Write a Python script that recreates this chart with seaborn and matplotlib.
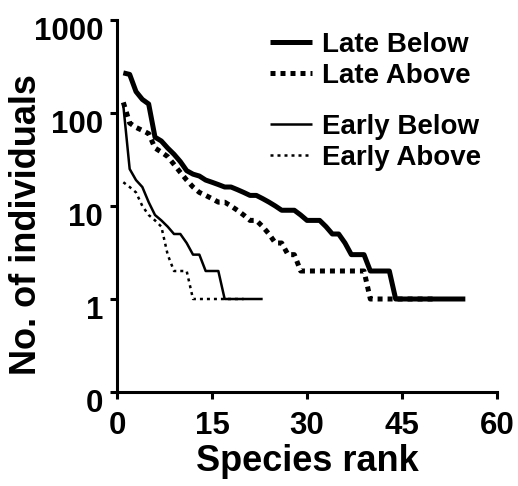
import numpy as np
import pandas as pd
import matplotlib
matplotlib.use("Agg")
import matplotlib.pyplot as plt
import matplotlib.transforms as mtransforms
from matplotlib.ticker import NullLocator
import seaborn as sns

# rank-abundance values (individuals per species, ordered by rank)
late_below = [270, 260, 170, 140, 125, 55, 50, 42, 36, 30, 24, 22, 21, 19, 18,
              17, 16, 16, 15, 14, 13, 13, 12, 11, 10, 9, 9, 9, 8, 7,
              7, 7, 6, 5, 5, 4, 3, 3, 3, 2, 2, 2, 2, 1, 1,
              1, 1, 1, 1, 1, 1, 1, 1, 1, 1]
late_above = [130, 78, 70, 65, 60, 42, 38, 34, 28, 23, 19, 16, 14, 13, 12,
              11, 11, 10, 9, 8, 7, 7, 6, 5, 4, 4, 3, 3, 2, 2,
              2, 2, 2, 2, 2, 2, 2, 2, 2, 1, 1, 1, 1, 1, 1,
              1, 1, 1, 1, 1]
early_below = [120, 25, 19, 16, 11, 8, 7, 6, 5, 5, 4, 3, 3, 2, 2,
               2, 1, 1, 1, 1, 1, 1, 1]
early_above = [18, 16, 14, 10, 8, 7, 6, 3, 2, 2, 2, 1, 1, 1, 1,
               1, 1, 1, 1, 1]

y_ticks = [0.1, 1, 10, 100, 1000]
y_ticklabels = ["0", "1", "10", "100", "1000"]
x_ticks = [0, 15, 30, 45, 60]

sns.set_style("ticks")
plt.rcParams["font.family"] = ["Liberation Sans", "DejaVu Sans"]
plt.rcParams["font.weight"] = "bold"
plt.rcParams["axes.labelweight"] = "bold"
for key in ["text.color", "axes.labelcolor", "xtick.color", "ytick.color",
            "axes.edgecolor", "xtick.labelcolor", "ytick.labelcolor"]:
    plt.rcParams[key] = "black"

fig = plt.figure(figsize=(5.18, 4.86), dpi=100)
ax = fig.add_axes([117 / 518, 1 - 392 / 486, 380 / 518, 372 / 486])

series = [
    ("Late Below", late_below, 3.6, "-"),
    ("Late Above", late_above, 3.6, (0, (1, 1))),
    ("Early Below", early_below, 1.8, "-"),
    ("Early Above", early_above, 1.8, (0, (1.2, 1.6))),
]
handles = []
for name, vals, lw, ls in series:
    df = pd.DataFrame({"rank": np.arange(1, len(vals) + 1), "count": vals})
    sns.lineplot(data=df, x="rank", y="count", ax=ax, color="black", lw=lw,
                 linestyle=ls, estimator=None, label=name, legend=False,
                 solid_capstyle="butt", dash_capstyle="butt")
    handles.append(ax.lines[-1])

ax.set_yscale("log")
ax.set_ylim(0.1, 1000)
ax.set_xlim(0, 60)
ax.set_yticks(y_ticks)
ax.set_yticklabels(y_ticklabels)
ax.yaxis.set_minor_locator(NullLocator())
ax.set_xticks(x_ticks)

for side in ["top", "right"]:
    ax.spines[side].set_visible(False)
for side in ["left", "bottom"]:
    ax.spines[side].set_linewidth(2.2)
    ax.spines[side].set_color("black")

ax.tick_params(axis="both", which="major", direction="out", length=5, width=2.2,
               color="black", labelcolor="black", labelsize=22.5, pad=5)
ax.tick_params(axis="x", pad=9)
for lab in ax.get_yticklabels():
    lab.set_fontweight("bold")
    lab.set_transform(lab.get_transform() +
                      mtransforms.ScaledTranslation(0, -0.085, fig.dpi_scale_trans))
for lab in ax.get_xticklabels():
    lab.set_fontweight("bold")

ax.set_xlabel("Species rank", fontsize=26, fontweight="bold", labelpad=2, color="black")
ax.set_ylabel("No. of individuals", fontsize=26, fontweight="bold", color="black")
ax.yaxis.label.set_va("center")
ax.yaxis.label.set_ha("center")
ax.yaxis.set_label_coords((27 - 117) / 380, (392 - 225) / 372)

leg_kw = dict(frameon=False, loc="upper left", borderpad=0, borderaxespad=0,
              handlelength=1.5, handletextpad=0.36, labelspacing=0.18,
              bbox_transform=fig.transFigure, prop={"weight": "bold", "size": 20},
              labelcolor="black")
leg1 = ax.legend(handles=handles[:2], labels=["Late Below", "Late Above"],
                 bbox_to_anchor=(270 / 518, 1 - 32 / 486), **leg_kw)
ax.add_artist(leg1)
ax.legend(handles=handles[2:], labels=["Early Below", "Early Above"],
          bbox_to_anchor=(270 / 518, 1 - 114 / 486), **leg_kw)

fig.savefig("out.png", dpi=100)
